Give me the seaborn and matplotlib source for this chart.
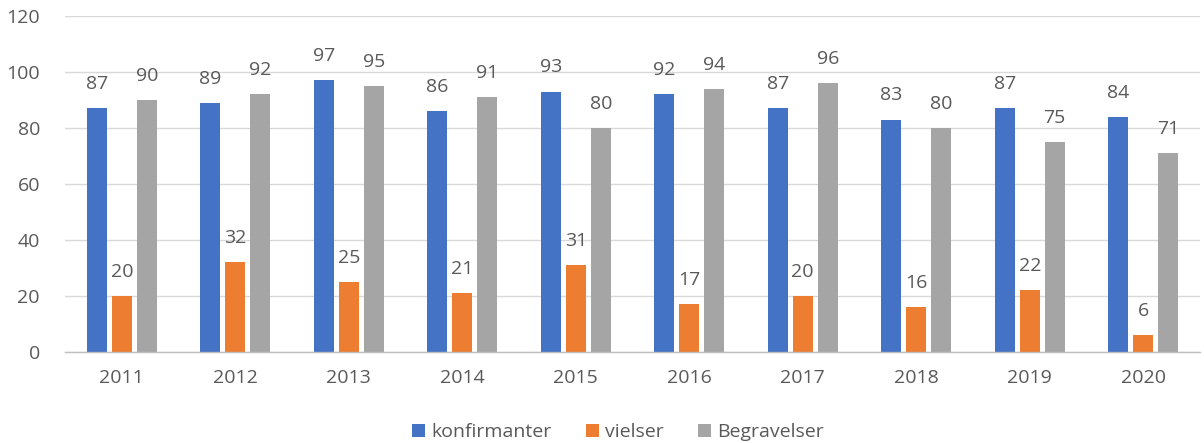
import numpy as np
import pandas as pd
import matplotlib
matplotlib.use("Agg")
import matplotlib.pyplot as plt
import seaborn as sns

years = ["2011", "2012", "2013", "2014", "2015", "2016", "2017", "2018", "2019", "2020"]
konfirmanter = [87, 89, 97, 86, 93, 92, 87, 83, 87, 84]
vielser = [20, 32, 25, 21, 31, 17, 20, 16, 22, 6]
begravelser = [90, 92, 95, 91, 80, 94, 96, 80, 75, 71]
series_names = ["konfirmanter", "vielser", "Begravelser"]
colors = ["#4472C4", "#ED7D31", "#A5A5A5"]

df = pd.DataFrame({
    "year": years * 3,
    "value": konfirmanter + vielser + begravelser,
    "series": [series_names[0]] * 10 + [series_names[1]] * 10 + [series_names[2]] * 10,
})

sns.set_style("white")
plt.rcParams["font.family"] = ["Open Sans", "DejaVu Sans"]
text_color = "#595959"

fig = plt.figure(figsize=(12.04, 4.43), dpi=100)
ax = fig.add_axes([65 / 1204, 1 - 352 / 443, (1200 - 65) / 1204, (352 - 16) / 443])

sns.barplot(data=df, x="year", y="value", hue="series", palette=colors,
            width=0.66, gap=0.2, saturation=1, linewidth=0, ax=ax, legend=True)

for c in ax.containers:
    ax.bar_label(c, padding=11, fontsize=14, color=text_color)

ax.set_ylim(0, 120)
ax.set_xlim(-0.5, 9.5)
ax.set_yticks(np.arange(0, 121, 20))
ax.yaxis.grid(True, color="#D9D9D9", linewidth=1)
ax.set_axisbelow(True)
for s in ["top", "right", "left"]:
    ax.spines[s].set_visible(False)
ax.spines["bottom"].set_color("#BFBFBF")
ax.spines["bottom"].set_linewidth(1)

ax.set_xticks(np.arange(-0.5, 10, 1), minor=True)
ax.tick_params(axis="x", which="minor", length=6, color="#BFBFBF", width=1)
ax.tick_params(axis="x", which="major", length=0, pad=12, labelsize=14, labelcolor=text_color)
ax.tick_params(axis="y", length=0, pad=18, labelsize=14, labelcolor=text_color)
ax.set_xlabel("")
ax.set_ylabel("")

handles, labels = ax.get_legend_handles_labels()
ax.get_legend().remove()
fig.legend(handles, labels, loc="center", bbox_to_anchor=(618 / 1204, 1 - 432 / 443),
           ncol=3, frameon=False, fontsize=14, labelcolor=text_color,
           handlelength=0.65, handleheight=0.65, handletextpad=0.3, columnspacing=1.8)

fig.savefig("out.png", dpi=100)
